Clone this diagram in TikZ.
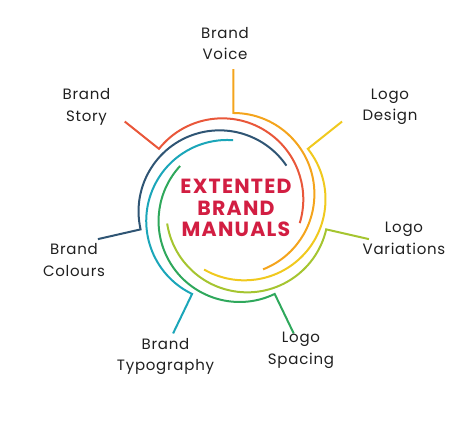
\documentclass[tikz,border=0pt]{standalone}
\usepackage{fontspec}
\setmainfont{Poppins}
\newfontfamily\labfont[LetterSpace=5]{Poppins}
\newfontfamily\titfont[LetterSpace=6]{Poppins}
\definecolor{cstory}{HTML}{E9573A}
\definecolor{cvoice}{HTML}{F4A41C}
\definecolor{cdesign}{HTML}{F0C91E}
\definecolor{cvar}{HTML}{A5C530}
\definecolor{cspace}{HTML}{2FA85C}
\definecolor{ctypo}{HTML}{1BA6B9}
\definecolor{ccol}{HTML}{2F5574}
\definecolor{ctitle}{HTML}{D21E42}
\begin{document}
\begin{tikzpicture}[x=1pt,y=1pt,
  spoke/.style={line width=2pt},
  lab/.style={font=\labfont\fontsize{15}{21.5}\selectfont, align=center, text=black!88, inner sep=0pt},
  title/.style={font=\titfont\fontsize{20.5}{21.7}\selectfont\bfseries, align=center, text=ctitle, inner sep=0pt}]
\useasboundingbox (0,0) rectangle (467,427);
\coordinate (C) at (233.4,218.8);
\foreach \k/\c/\n in {0/cvoice/voice,1/cdesign/design,2/cvar/var,3/cspace/space,4/ctypo/typo,5/ccol/col,6/cstory/story}{
  \pgfmathsetmacro\t{90-\k*360/7}
  \coordinate (o\n) at ([shift={(\t:139)}]C);
  \coordinate (s\n) at ([shift={(\t:95.2)}]C);
  \draw[spoke,\c] (o\n) -- (s\n) arc[start angle=\t, delta angle=-158.5, radius=81];
}
\node[title] (center) at (236,219) {EXTENTED\\BRAND\\MANUALS};
\node[lab] (lvoice) at (225,383.5) {Brand\\Voice};
\node[lab] (lstory) at (86.5,320) {Brand\\Story};
\node[lab] (ldesign) at (390,320) {Logo\\Design};
\node[lab] (lvar) at (404,188.5) {Logo\\Variations};
\node[lab] (lspace) at (301,76.5) {Logo\\Spacing};
\node[lab] (ltypo) at (165.5,70.5) {Brand\\Typography};
\node[lab] (lcol) at (74,167) {Brand\\Colours};
\end{tikzpicture}
\end{document}
